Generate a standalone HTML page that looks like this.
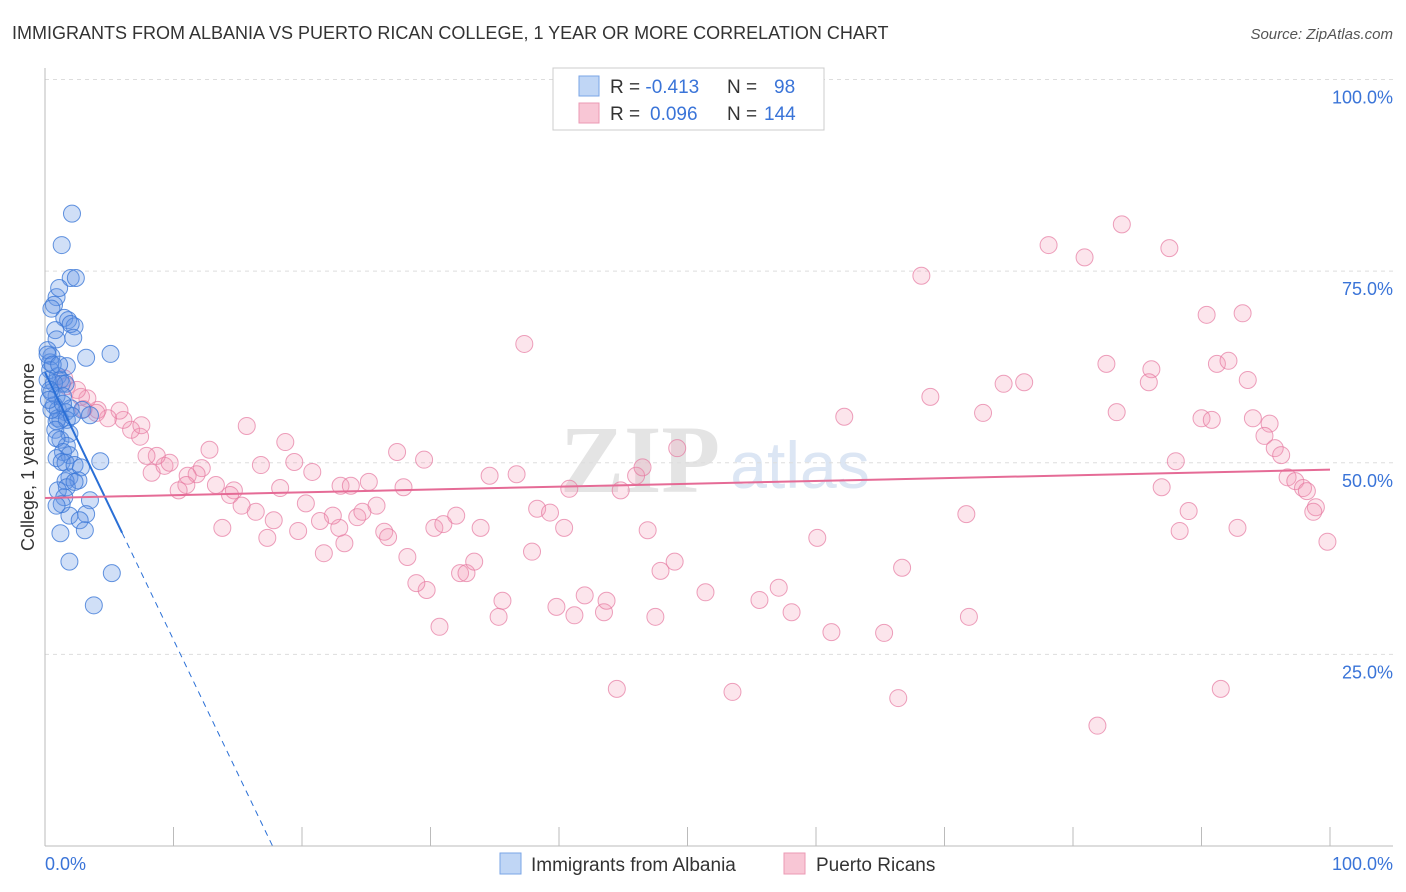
<!DOCTYPE html>
<html><head><meta charset="utf-8"><style>
body{margin:0;background:#fff;font-family:"Liberation Sans",sans-serif;}
#wrap{position:relative;width:1406px;height:892px;overflow:hidden;}
</style></head><body>
<div id="wrap">
<svg id="svg" width="1406" height="892" xmlns="http://www.w3.org/2000/svg">
<text x="12" y="39" font-size="18" fill="#333">IMMIGRANTS FROM ALBANIA VS PUERTO RICAN COLLEGE, 1 YEAR OR MORE CORRELATION CHART</text>
<text x="1393" y="39" font-size="15" fill="#555" font-style="italic" text-anchor="end">Source: ZipAtlas.com</text>
<text x="640" y="492" font-size="96" fill="#e4e4e4" font-family="Liberation Serif,serif" font-weight="bold" text-anchor="middle">ZIP</text>
<text x="800" y="488" font-size="66" fill="#dce6f4" text-anchor="middle">atlas</text>
<g id="grid"></g><g id="pts"></g><g id="lines"></g>
<text transform="translate(34,457) rotate(-90)" font-size="18" fill="#333" text-anchor="middle">College, 1 year or more</text>
<text x="45" y="870" font-size="18" fill="#3a74d8">0.0%</text>
<text x="1393" y="870" font-size="18" fill="#3a74d8" text-anchor="end">100.0%</text>
<g>
<rect x="553" y="68" width="271" height="62" fill="#fff" stroke="#ccc"/>
<rect x="579" y="76" width="20" height="20" fill="#c0d6f5" stroke="#7aa5e6"/>
<rect x="579" y="103" width="20" height="20" fill="#f8c6d5" stroke="#eb9ab4"/>
<text x="610" y="93" font-size="19" fill="#333">R = <tspan fill="#3a74d8">-0.413</tspan><tspan x="727">N = </tspan><tspan x="774" fill="#3a74d8">98</tspan></text>
<text x="610" y="120" font-size="19" fill="#333">R = <tspan x="650" fill="#3a74d8">0.096</tspan><tspan x="727">N = </tspan><tspan x="764" fill="#3a74d8">144</tspan></text>
</g>
<g>
<rect x="500" y="853" width="21" height="21" fill="#c0d6f5" stroke="#7aa5e6"/>
<text x="531" y="871" font-size="19" fill="#333">Immigrants from Albania</text>
<rect x="784" y="853" width="21" height="21" fill="#f8c6d5" stroke="#eb9ab4"/>
<text x="816" y="871" font-size="19" fill="#333">Puerto Ricans</text>
</g>
</svg>
<script>
const yTicks=[25,50,75,100];
const yTickLabels=["25.0%","50.0%","75.0%","100.0%"];
const xTicks=[0,10,20,30,40,50,60,70,80,90,100];
const blueX=[2.1,1.3,2.0,2.4,0.9,0.7,1.1,0.5,1.5,1.8,2.3,2.0,0.8,0.9,2.2,5.1,3.2,1.7,0.5,0.4,0.4,1.0,1.2,1.3,0.7,1.6,0.5,0.9,1.4,0.7,1.0,2.0,2.9,3.5,1.6,1.0,1.2,0.9,1.7,2.1,0.8,1.2,1.9,1.7,0.9,1.4,1.9,0.9,1.3,1.6,2.3,2.8,4.3,1.9,2.6,1.6,1.7,1.0,1.5,2.3,3.5,3.2,1.9,1.3,1.2,2.7,3.1,1.9,5.2,3.8,0.9,0.5,0.2,0.4,0.3,0.2,0.2,0.6,1.1,1.4];
const blueY=[82.5,78.4,74.1,74.1,71.6,70.6,72.8,70.1,68.9,68.6,67.8,68.1,67.3,66.1,66.3,64.2,63.7,62.6,63.9,63.1,62.1,61.3,60.8,60.3,60.4,60.3,59.2,58.7,58.7,57.5,56.9,57.1,56.9,56.2,56.6,55.8,55.6,55.4,55.6,56.1,54.3,53.0,53.8,52.2,53.2,51.4,51.0,50.6,50.1,50.0,49.7,49.4,50.2,48.1,47.7,47.6,46.8,46.4,45.5,47.5,45.1,43.3,43.1,44.6,40.8,42.5,41.2,37.1,35.6,31.4,44.4,56.9,60.8,59.5,58.2,64.7,64.1,62.8,62.8,57.7];
const pinkX=[83.8,78.1,80.9,87.5,68.2,90.4,93.2,37.3,82.6,86.1,91.2,92.1,85.9,93.6,74.6,76.2,68.9,73.0,62.2,83.4,90.0,90.8,94.0,95.3,94.9,95.7,96.2,49.2,88.0,96.7,97.3,97.9,98.2,98.9,98.7,99.8,86.9,89.0,71.7,88.3,92.8,60.1,66.7,71.9,81.9,91.5,66.4,53.5,44.5,61.2,65.3,58.1,55.6,57.1,51.4,47.5,43.5,43.7,42.0,41.2,39.8,35.3,35.6,30.7,29.7,28.9,32.3,32.8,33.4,28.2,37.9,47.9,49.0,46.9,40.4,38.3,39.3,30.3,31.0,32.0,33.9,26.4,26.7,25.8,24.3,24.7,23.3,22.9,21.7,22.4,21.4,20.3,19.7,17.8,17.3,16.4,15.3,13.8,13.3,14.7,14.4,12.2,11.8,11.1,11.0,10.4,8.3,9.3,9.7,8.7,7.9,12.8,7.4,6.7,7.5,6.1,5.8,4.9,4.1,3.3,4.0,2.8,1.7,15.7,16.8,18.7,19.4,20.8,18.3,23.0,23.8,25.2,27.4,27.9,29.5,34.6,36.7,40.8,44.8,46.0,46.5,2.5,3.0,1.5];
const pinkY=[81.1,78.4,76.8,78.0,74.4,69.3,69.5,65.5,62.9,62.2,62.9,63.3,60.5,60.8,60.3,60.5,58.6,56.5,56.0,56.6,55.8,55.6,55.8,55.1,53.5,51.9,51.0,51.9,50.2,48.1,47.6,46.7,46.3,44.2,43.6,39.7,46.8,43.7,43.3,41.1,41.5,40.2,36.3,29.9,15.7,20.5,19.3,20.1,20.5,27.9,27.8,30.5,32.1,33.7,33.1,29.9,30.5,32.0,32.7,30.1,31.2,29.9,32.0,28.6,33.4,34.3,35.6,35.6,37.1,37.7,38.4,35.9,37.1,41.2,41.5,44.0,43.5,41.5,42.0,43.1,41.5,41.0,40.3,44.4,42.9,43.6,39.5,41.5,38.2,43.1,42.4,44.7,41.1,42.5,40.2,43.6,44.4,41.5,47.1,46.4,45.8,49.3,48.5,48.3,47.1,46.4,48.7,49.6,50.0,50.9,50.9,51.7,53.4,54.3,54.9,55.6,56.8,55.8,56.9,58.4,56.5,58.6,60.0,54.8,49.7,52.7,50.1,48.8,46.7,47.0,47.0,47.5,51.4,46.8,50.4,48.3,48.5,46.6,46.4,48.3,49.4,59.5,57.0,61.0];
const blueLine=[61.8,-3.49]; // intercept, slope
const blueSolidEnd=6.0, blueDashEnd=17.7;
const pinkLine=[45.4,0.037];
const X=v=>45+v*12.85, Y=v=>846-v*7.665;
const NS="http://www.w3.org/2000/svg";
function mk(t,a,p){const e=document.createElementNS(NS,t);for(const k in a)e.setAttribute(k,a[k]);p.appendChild(e);return e;}
const grid=document.getElementById('grid');
yTicks.forEach((t,i)=>{
 const l=mk('line',{x1:45,x2:1393,y1:Y(t),y2:Y(t),stroke:'#ddd','stroke-dasharray':'4,4'},grid);
 
 
 const tx=mk('text',{x:1393,y:Y(t)+24,'font-size':18,fill:'#3a74d8','text-anchor':'end'},grid);
 tx.textContent=yTickLabels[i];
 
 
});
const ax=mk('line',{x1:45,x2:45,y1:68,y2:846,stroke:'#bbb'},grid);


const bx=mk('line',{x1:45,x2:1393,y1:846,y2:846,stroke:'#bbb'},grid);


xTicks.forEach(t=>{
 const l=mk('line',{x1:X(t),x2:X(t),y1:827,y2:846,stroke:'#bbb'},grid);
 
 
});
const pts=document.getElementById('pts');
pinkX.forEach((x,i)=>{
 const c=mk('circle',{cx:X(x),cy:Y(pinkY[i]),r:8.5,fill:'rgba(244,150,180,0.25)',stroke:'rgba(230,120,160,0.7)','stroke-width':1},pts);
 
 
});
blueX.forEach((x,i)=>{
 const c=mk('circle',{cx:X(x),cy:Y(blueY[i]),r:8.5,fill:'rgba(100,150,230,0.3)',stroke:'rgba(60,120,215,0.8)','stroke-width':1},pts);
 
 
});
const lines=document.getElementById('lines');
const bl=v=>blueLine[0]+blueLine[1]*v;
const b1=mk('line',{x1:X(0),y1:Y(bl(0)),x2:X(blueSolidEnd),y2:Y(bl(blueSolidEnd)),stroke:'#2a6fd6','stroke-width':2},lines);


const b2=mk('line',{x1:X(blueSolidEnd),y1:Y(bl(blueSolidEnd)),x2:X(blueDashEnd),y2:Y(bl(blueDashEnd)),stroke:'#2a6fd6','stroke-width':1,'stroke-dasharray':'6,5'},lines);


const pl=v=>pinkLine[0]+pinkLine[1]*v;
const p1=mk('line',{x1:X(0),y1:Y(pl(0)),x2:X(100),y2:Y(pl(100)),stroke:'#e56b96','stroke-width':2},lines);


</script>
</div>
</body></html>
